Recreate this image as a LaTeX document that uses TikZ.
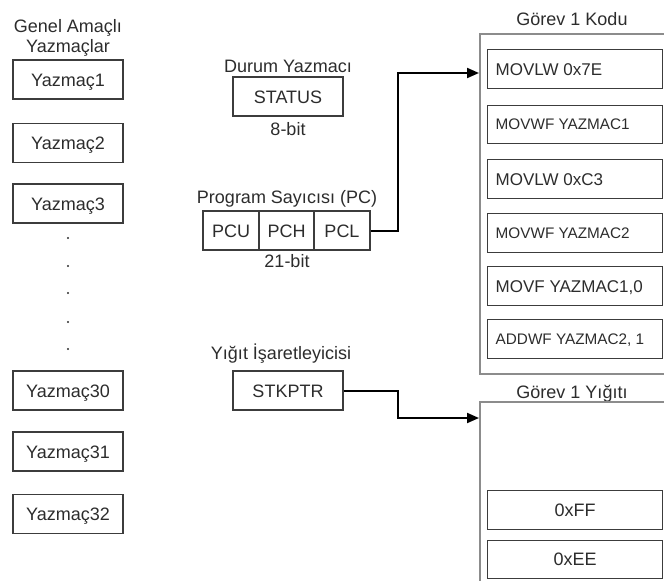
\documentclass[tikz,border=0pt]{standalone}
\usepackage{fontspec}
\setmainfont{Liberation Sans}
\usetikzlibrary{arrows.meta}
\definecolor{txt}{HTML}{2C2C2C}
\definecolor{bd}{HTML}{3C3C3C}
\definecolor{outerc}{HTML}{8C8C8C}
\begin{document}
\begin{tikzpicture}[x=1pt,y=-1pt,
  font=\fontsize{18}{21}\selectfont, text=txt,
  reg/.style={draw=bd, line width=1.4pt, minimum width=110pt, minimum height=39pt, inner sep=0pt, text height=13pt, text depth=0pt},
  code/.style={draw=bd, line width=1.4pt, minimum width=175pt, minimum height=38.5pt, inner sep=0pt, anchor=north west, text width=159pt, align=flush left, font=\fontsize{17}{20}\selectfont, text height=12.2pt, text depth=0pt},
  stackc/.style={draw=bd, line width=1.4pt, minimum width=175pt, minimum height=38.5pt, inner sep=0pt, anchor=north west, text height=13pt, text depth=0pt},
  small/.style={font=\fontsize{15.3}{18}\selectfont, text height=11pt},
  lbl/.style={inner sep=0pt, anchor=base},
  conn/.style={draw=black, line width=2pt, -{Triangle[length=12pt,width=10pt]}},
  panel/.style={draw=outerc, line width=2pt, anchor=north west, inner sep=0pt}
]
\useasboundingbox (0,0) rectangle (664,581);
\clip (0,0) rectangle (664,581);

% general purpose registers
\node[lbl] (gah1) at (68,32) {Genel Amaçlı};
\node[lbl] (gah2) at (68,52) {Yazmaçlar};
\node[reg] (r1) at (68,79.5) {Yazmaç1};
\node[reg] (r2) at (68,143) {Yazmaç2};
\node[reg] (r3) at (68,203.5) {Yazmaç3};
\foreach \yy in {238,266,293,322,349} \fill[txt] (68,\yy) circle (1.1pt);
\node[reg] (r30) at (68,390.5) {Yazmaç30};
\node[reg] (r31) at (68,451.5) {Yazmaç31};
\node[reg] (r32) at (68,514) {Yazmaç32};

% status
\node[lbl] (durum) at (288,72.5) {Durum Yazmacı};
\node[reg] (status) at (288,96.5) {STATUS};
\node[lbl] (b8) at (288,135) {8-bit};

% program counter
\node[lbl] (pclbl) at (287,203.5) {Program Sayıcısı (PC)};
\node[reg, minimum width=56pt] (pcu) at (231,230.5) {PCU};
\node[reg, minimum width=55pt] (pch) at (286.5,230.5) {PCH};
\node[reg, minimum width=56pt] (pcl) at (342,230.5) {PCL};
\node[lbl] (b21) at (287,267) {21-bit};

% stack pointer
\node[lbl] (splbl) at (281,359) {Yığıt İşaretleyicisi};
\node[reg] (stk) at (288,390.5) {STKPTR};

% task code panel
\node[lbl] (kodlbl) at (572,25) {Görev 1 Kodu};
\node[panel, minimum width=221pt, minimum height=340pt] (kod) at (479,33) {};
\node[code] (c1) at (487,49) {MOVLW~0x7E};
\node[code, small] (c2) at (487,104.5) {MOVWF~YAZMAC1};
\node[code] (c3) at (487,159) {MOVLW~0xC3};
\node[code, small] (c4) at (487,213) {MOVWF~YAZMAC2};
\node[code] (c5) at (487,266) {MOVF~YAZMAC1,0};
\node[code, small] (c6) at (487,319) {ADDWF~YAZMAC2,~1};

% task stack panel
\node[lbl] (yiglbl) at (572,398.5) {Görev 1 Yığıtı};
\node[panel, minimum width=221pt, minimum height=200pt] (yigit) at (479,401) {};
\node[stackc] (s1) at (487,490) {0xFF};
\node[stackc] (s2) at (487,539.5) {0xEE};

% connectors
\path (kod.north west) ++(0,40) coordinate (kin);
\path (yigit.north west) ++(0,17) coordinate (sin);
\draw[conn] (pcl.east) -- ++(27,0) |- (kin);
\draw[conn] (stk.east) -- ++(54,0) |- (sin);
\end{tikzpicture}
\end{document}
